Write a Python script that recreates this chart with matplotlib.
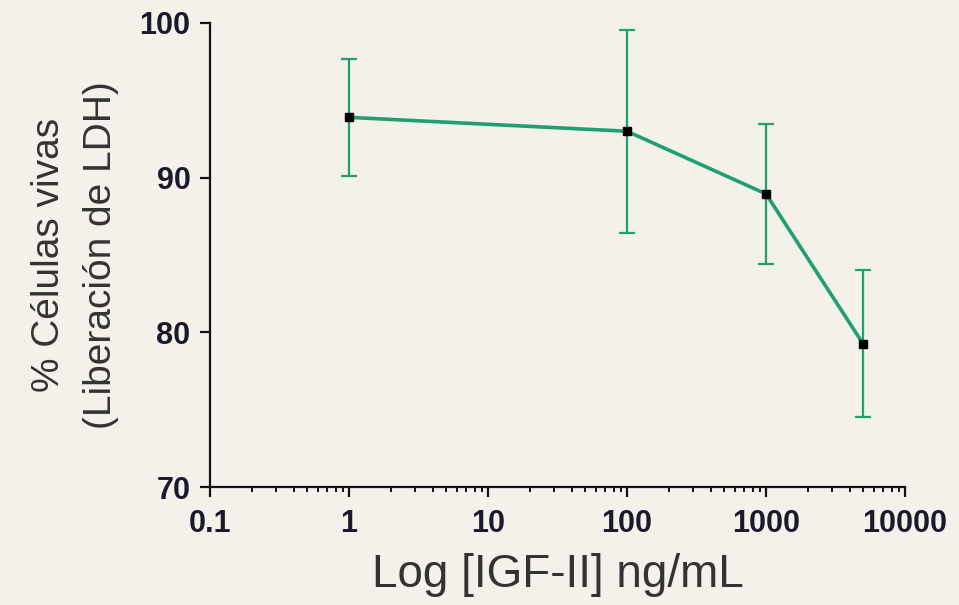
import numpy as np
import matplotlib.pyplot as plt

# IGF-II concentration (ng/mL) vs % viable cells (LDH release)
conc = [1, 100, 1000, 5000]
viable = [93.9, 93.0, 88.95, 79.25]
err = [3.8, 6.55, 4.5, 4.75]

xticks = [0.1, 1, 10, 100, 1000, 10000]
xticklabels = ["0.1", "1", "10", "100", "1000", "10000"]
yticks = [70, 80, 90, 100]

BG = "#f4f0ea"
GREEN = "#20a070"

plt.rcParams["font.family"] = ["Liberation Sans", "DejaVu Sans"]

fig = plt.figure(figsize=(9.59, 6.05), dpi=100, facecolor=BG)
ax = fig.add_axes([0.219, 0.195, 0.7247, 0.767])
ax.set_facecolor(BG)

# error bars first, then the line and points on top
ax.errorbar(conc, viable, yerr=err, fmt="none", ecolor=GREEN,
            elinewidth=1.6, capsize=5.5, capthick=1.6, zorder=2)
ax.plot(conc, viable, color=GREEN, lw=2.6, zorder=3)
ax.plot(conc, viable, "s", color="black", ms=5.5, zorder=4)

ax.set_xscale("log")
ax.set_xlim(0.1, 10000)
ax.set_ylim(70, 100)
ax.set_xticks(xticks)
ax.set_xticklabels(xticklabels)
ax.set_yticks(yticks)

for s in ["top", "right"]:
    ax.spines[s].set_visible(False)
for s in ["left", "bottom"]:
    ax.spines[s].set_linewidth(1.6)
    ax.spines[s].set_color("#111111")

ax.tick_params(axis="both", which="major", length=7, width=1.6,
               colors="#111111")
ax.tick_params(axis="x", which="major", pad=9)
ax.tick_params(axis="y", which="major", pad=7)
ax.tick_params(axis="x", which="minor", length=3.5, width=1.4, colors="#111111")
ax.tick_params(axis="y", which="minor", left=False)
for lab in ax.get_xticklabels() + ax.get_yticklabels():
    lab.set_fontsize(22)
    lab.set_fontweight("bold")
    lab.set_color("#1c1a2a")

ax.set_xlabel("Log [IGF-II] ng/mL", fontsize=33, color="#333333", labelpad=10)
ax.set_ylabel("% Células vivas\n(Liberación de LDH)", fontsize=28,
              color="#333333", labelpad=15, linespacing=1.55)

fig.savefig("out.png", dpi=100, facecolor=BG)
